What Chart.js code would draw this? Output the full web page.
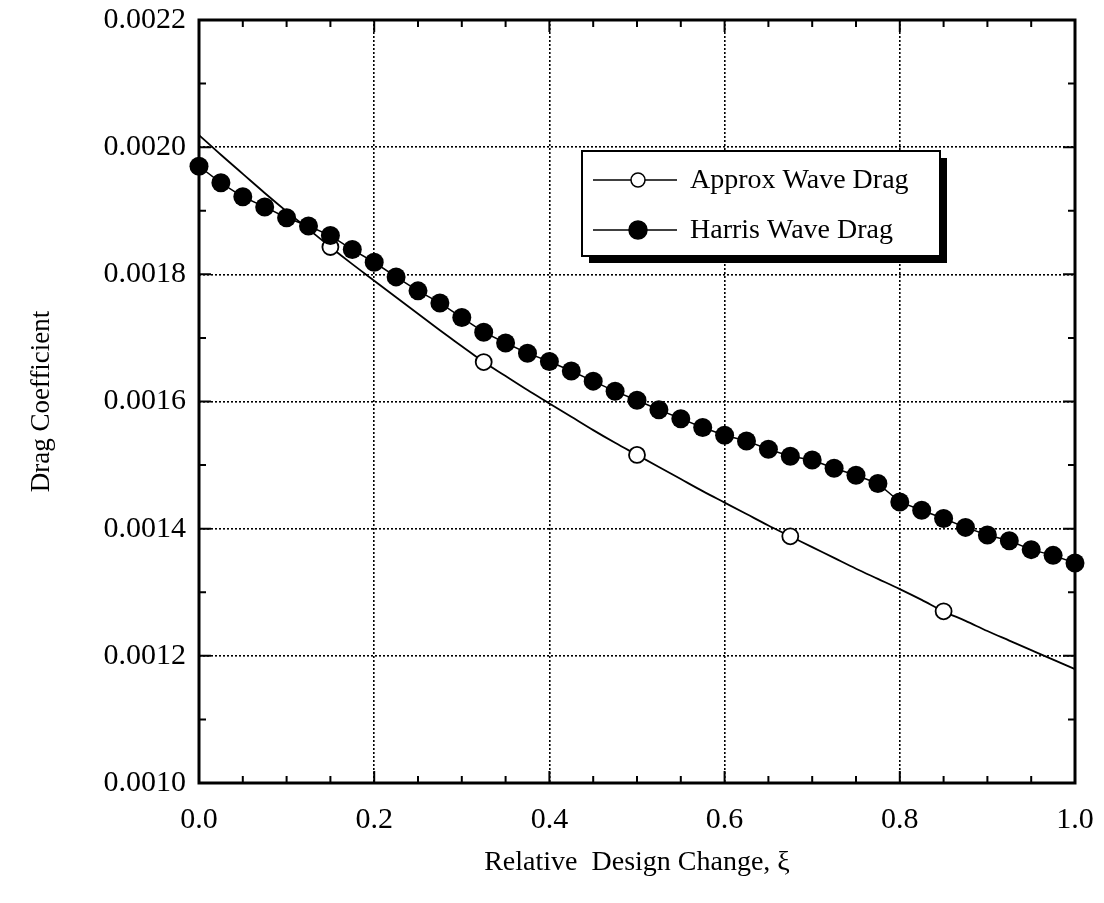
<!DOCTYPE html>
<html>
<head>
<meta charset="utf-8">
<script src="https://cdn.jsdelivr.net/npm/chart.js@4.4.0/dist/chart.umd.min.js"></script>
<style>
  html, body { margin: 0; padding: 0; background: #fff; }
  #wrap { width: 1104px; height: 903px; }
</style>
</head>
<body>
<div id="wrap"><canvas id="grafica" width="1104" height="903"></canvas></div>
<script>
// cambio relativo de diseño (xi)
const xi = [0.000, 0.025, 0.050, 0.075, 0.100, 0.125, 0.150, 0.175, 0.200, 0.225,
            0.250, 0.275, 0.300, 0.325, 0.350, 0.375, 0.400, 0.425, 0.450, 0.475,
            0.500, 0.525, 0.550, 0.575, 0.600, 0.625, 0.650, 0.675, 0.700, 0.725,
            0.750, 0.775, 0.800, 0.825, 0.850, 0.875, 0.900, 0.925, 0.950, 0.975, 1.000];

const approxCd = [0.002019, 0.001988, 0.001958, 0.001928, 0.001899, 0.001871, 0.001843, 0.001816, 0.001790, 0.001764,
                  0.001738, 0.001712, 0.001687, 0.001662, 0.001640, 0.001618, 0.001597, 0.001576, 0.001555, 0.001535,
                  0.001516, 0.001497, 0.001478, 0.001459, 0.001441, 0.001423, 0.001405, 0.001388, 0.001371, 0.001354,
                  0.001337, 0.001321, 0.001305, 0.001288, 0.001270, 0.001255, 0.001239, 0.001224, 0.001209, 0.001194, 0.001179];

// solo algunos puntos llevan circulo
const approxMarcas = [6, 13, 20, 27, 34];

const harrisCd = [0.001970, 0.001944, 0.001922, 0.001906, 0.001889, 0.001876, 0.001861, 0.001839, 0.001819, 0.001796,
                  0.001774, 0.001755, 0.001732, 0.001709, 0.001692, 0.001676, 0.001663, 0.001648, 0.001632, 0.001616,
                  0.001602, 0.001587, 0.001573, 0.001559, 0.001547, 0.001538, 0.001525, 0.001514, 0.001508, 0.001495,
                  0.001484, 0.001471, 0.001442, 0.001429, 0.001416, 0.001402, 0.001390, 0.001381, 0.001367, 0.001358, 0.001346];

const xTicks = [0.0, 0.2, 0.4, 0.6, 0.8, 1.0];
const yTicks = [0.0010, 0.0012, 0.0014, 0.0016, 0.0018, 0.0020, 0.0022];

const fuente = 'Liberation Serif, Times New Roman, serif';

const marcas = {
    id: 'marcas',
    afterDraw(chart) {
        const { ctx, chartArea: a, scales: { x, y } } = chart;
        ctx.save();
        ctx.strokeStyle = '#000';
        ctx.lineWidth = 2;
        ctx.beginPath();
        for (let i = 0; i <= 20; i++) {
            const px = x.getPixelForValue(i * 0.05);
            const len = i % 4 === 0 ? 12 : 7;
            ctx.moveTo(px, a.bottom); ctx.lineTo(px, a.bottom - len);
            ctx.moveTo(px, a.top); ctx.lineTo(px, a.top + len);
        }
        for (let j = 0; j <= 12; j++) {
            const py = y.getPixelForValue(0.001 + j * 0.0001);
            const len = j % 2 === 0 ? 12 : 7;
            ctx.moveTo(a.left, py); ctx.lineTo(a.left + len, py);
            ctx.moveTo(a.right, py); ctx.lineTo(a.right - len, py);
        }
        ctx.stroke();
        ctx.lineWidth = 3;
        ctx.strokeRect(a.left, a.top, a.right - a.left, a.bottom - a.top);
        ctx.restore();
    }
};

const leyenda = {
    id: 'leyenda',
    afterDraw(chart) {
        const ctx = chart.ctx;
        const x = 582, y = 151, w = 358, h = 105, sombra = 7;
        ctx.save();
        ctx.fillStyle = '#000';
        ctx.fillRect(x + sombra, y + sombra, w, h);
        ctx.fillStyle = '#fff';
        ctx.fillRect(x, y, w, h);
        ctx.strokeStyle = '#000';
        ctx.lineWidth = 2;
        ctx.strokeRect(x, y, w, h);

        const filas = [
            { texto: 'Approx Wave Drag', yy: 180, relleno: '#fff', r: 7 },
            { texto: 'Harris Wave Drag', yy: 230, relleno: '#000', r: 9 }
        ];
        ctx.font = '28px ' + fuente;
        ctx.textBaseline = 'middle';
        filas.forEach(f => {
            ctx.lineWidth = 1.5;
            ctx.beginPath();
            ctx.moveTo(593, f.yy); ctx.lineTo(677, f.yy);
            ctx.stroke();
            ctx.beginPath();
            ctx.arc(638, f.yy, f.r, 0, Math.PI * 2);
            ctx.fillStyle = f.relleno;
            ctx.fill();
            ctx.stroke();
            ctx.fillStyle = '#000';
            ctx.fillText(f.texto, 690, f.yy + 1);
        });
        ctx.restore();
    }
};

new Chart(document.getElementById('grafica'), {
    type: 'line',
    data: {
        labels: xi,
        datasets: [{
            label: 'Approx Wave Drag',
            data: xi.map((v, i) => ({ x: v, y: approxCd[i] })),
            borderColor: '#000',
            borderWidth: 1.8,
            backgroundColor: '#fff',
            pointRadius: xi.map((v, i) => approxMarcas.includes(i) ? 8 : 0),
            pointBorderWidth: 1.8,
            pointBorderColor: '#000',
            pointBackgroundColor: '#fff',
            cubicInterpolationMode: 'monotone',
            clip: false,
            order: 1
        }, {
            label: 'Harris Wave Drag',
            data: xi.map((v, i) => ({ x: v, y: harrisCd[i] })),
            borderColor: '#000',
            borderWidth: 1.5,
            backgroundColor: '#000',
            pointRadius: 9.5,
            pointBorderWidth: 0,
            pointBackgroundColor: '#000',
            tension: 0,
            clip: false,
            order: 0
        }]
    },
    options: {
        responsive: false,
        animation: false,
        events: [],
        layout: { padding: { top: 20, right: 29, left: 0, bottom: 0 } },
        plugins: { legend: { display: false }, tooltip: { enabled: false } },
        scales: {
            x: {
                type: 'linear',
                min: 0, max: 1,
                afterFit: s => { s.height = 120; s.paddingLeft = 0; s.paddingRight = 0; },
                afterBuildTicks: s => { s.ticks = xTicks.map(v => ({ value: v })); },
                ticks: {
                    color: '#000', padding: 19,
                    font: { family: fuente, size: 30 },
                    callback: v => v.toFixed(1)
                },
                grid: { color: '#000', lineWidth: 1.6, drawTicks: false },
                border: { display: false, dash: [2, 2] },
                title: {
                    display: true, text: 'Relative  Design Change, \u03be', color: '#000',
                    font: { family: fuente, size: 28 }, padding: { top: 0, bottom: 24 }
                }
            },
            y: {
                type: 'linear',
                min: 0.0010, max: 0.0022,
                afterFit: s => { s.width = 199; s.paddingTop = 0; s.paddingBottom = 0; },
                afterBuildTicks: s => { s.ticks = yTicks.map(v => ({ value: v })); },
                ticks: {
                    color: '#000', padding: 13,
                    font: { family: fuente, size: 30 },
                    callback: v => v.toFixed(4)
                },
                grid: { color: '#000', lineWidth: 1.6, drawTicks: false },
                border: { display: false, dash: [2, 2] },
                title: {
                    display: true, text: 'Drag Coefficient', color: '#000',
                    font: { family: fuente, size: 27 }, padding: { top: 26, bottom: 0 }
                }
            }
        }
    },
    plugins: [marcas, leyenda]
});
</script>
</body>
</html>
